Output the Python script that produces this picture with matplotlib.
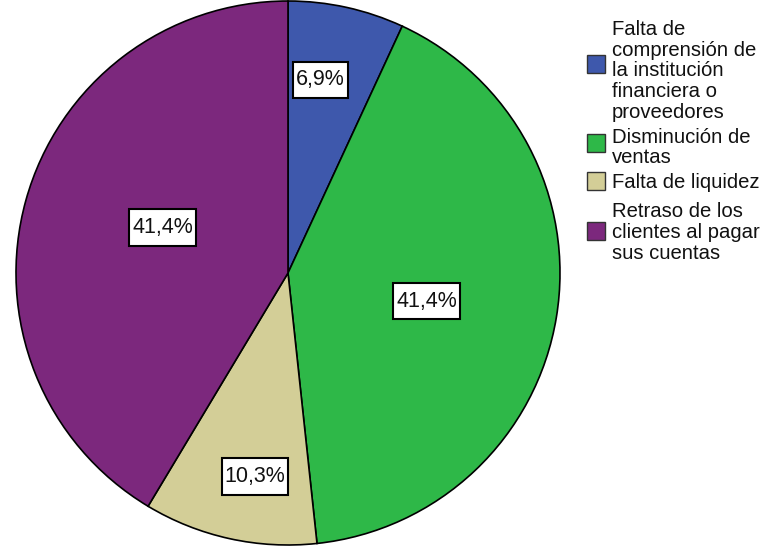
import numpy as np
import matplotlib.pyplot as plt
from matplotlib.patches import Rectangle

plt.rcParams['font.family'] = ['Liberation Sans', 'DejaVu Sans']

categories = ["Falta de\ncomprensión de\nla institución\nfinanciera o\nproveedores",
              "Disminución de\nventas",
              "Falta de liquidez",
              "Retraso de los\nclientes al pagar\nsus cuentas"]
percentages = [6.9, 41.4, 10.3, 41.4]
labels = ["6,9%", "41,4%", "10,3%", "41,4%"]
colors = ["#3E58AC", "#2EB848", "#D3CE97", "#7C287D"]
# value box placement: fraction of radius and angle shift from wedge middle
label_dist = [0.72, 0.52, 0.757, 0.49]
label_shift = [2.9, -2.1, 3.2, -4.5]

W, H = 772, 547
fig = plt.figure(figsize=(W / 100, H / 100), dpi=100)
ax = fig.add_axes([16 / W, 2 / H, 544 / W, 544 / H])

wedges, _ = ax.pie(percentages, colors=colors, startangle=90, counterclock=False,
                   wedgeprops=dict(edgecolor="black", linewidth=1.2))
ax.set_xlim(-1, 1)
ax.set_ylim(-1, 1)
ax.set_aspect("equal")

for w, lab, d, s in zip(wedges, labels, label_dist, label_shift):
    ang = np.deg2rad((w.theta1 + w.theta2) / 2 + s)
    ax.text(d * np.cos(ang), d * np.sin(ang), lab, ha="center", va="center",
            fontsize=15.5, color="#111111",
            bbox=dict(boxstyle="square,pad=0.14", mutation_aspect=2.6,
                      facecolor="white", edgecolor="black", linewidth=1.5))

# legend drawn by hand: pixel rows for text block centres and swatch centres
text_rows = [71, 147.5, 182, 232.5]
swatch_rows = [64, 143, 181, 231]
for name, c, ty, sy in zip(categories, colors, text_rows, swatch_rows):
    fig.patches.append(Rectangle((587 / W, 1 - (sy + 9) / H), 18 / W, 18 / H,
                                 transform=fig.transFigure, facecolor=c,
                                 edgecolor="#333333", linewidth=1))
    fig.text(612 / W, 1 - ty / H, name, ha="left", va="center", fontsize=14.6,
             color="#111111", linespacing=1.13)

fig.savefig("out.png", dpi=100)
